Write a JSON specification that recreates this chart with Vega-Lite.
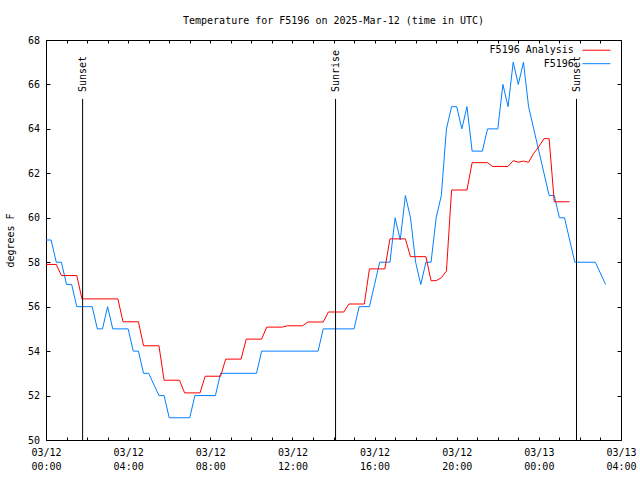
{
  "$schema": "https://vega.github.io/schema/vega-lite/v6.json",
  "autosize": "none",
  "width": 575,
  "height": 400,
  "padding": {"left": 46, "top": 40, "right": 19, "bottom": 40},
  "background": "white",
  "title": {"text": "Temperature for F5196 on 2025-Mar-12 (time in UTC)", "font": "DejaVu Sans Mono", "fontSize": 10, "fontWeight": "normal", "color": "black", "anchor": "middle", "frame": "group", "baseline": "alphabetic", "offset": 1.5},
  "config": {
    "font": "DejaVu Sans Mono",
    "view": {"stroke": "black", "strokeWidth": 1},
    "axis": {"grid": false, "domain": false, "labelFont": "DejaVu Sans Mono", "labelFontSize": 10, "labelColor": "black", "tickColor": "black", "tickWidth": 1, "titleFont": "DejaVu Sans Mono", "titleFontSize": 10, "titleFontWeight": "normal", "titleColor": "black"}
  },
  "datasets": {
    "temps": [
      {"t": "2025-03-12T00:00:00Z", "v": 59, "s": "F5196"},
      {"t": "2025-03-12T00:15:00Z", "v": 59, "s": "F5196"},
      {"t": "2025-03-12T00:30:00Z", "v": 58, "s": "F5196"},
      {"t": "2025-03-12T00:45:00Z", "v": 58, "s": "F5196"},
      {"t": "2025-03-12T01:00:00Z", "v": 57, "s": "F5196"},
      {"t": "2025-03-12T01:15:00Z", "v": 57, "s": "F5196"},
      {"t": "2025-03-12T01:30:00Z", "v": 56, "s": "F5196"},
      {"t": "2025-03-12T02:15:00Z", "v": 56, "s": "F5196"},
      {"t": "2025-03-12T02:30:00Z", "v": 55, "s": "F5196"},
      {"t": "2025-03-12T02:45:00Z", "v": 55, "s": "F5196"},
      {"t": "2025-03-12T03:00:00Z", "v": 56, "s": "F5196"},
      {"t": "2025-03-12T03:15:00Z", "v": 55, "s": "F5196"},
      {"t": "2025-03-12T04:00:00Z", "v": 55, "s": "F5196"},
      {"t": "2025-03-12T04:15:00Z", "v": 54, "s": "F5196"},
      {"t": "2025-03-12T04:30:00Z", "v": 54, "s": "F5196"},
      {"t": "2025-03-12T04:45:00Z", "v": 53, "s": "F5196"},
      {"t": "2025-03-12T05:00:00Z", "v": 53, "s": "F5196"},
      {"t": "2025-03-12T05:30:00Z", "v": 52, "s": "F5196"},
      {"t": "2025-03-12T05:45:00Z", "v": 52, "s": "F5196"},
      {"t": "2025-03-12T06:00:00Z", "v": 51, "s": "F5196"},
      {"t": "2025-03-12T07:00:00Z", "v": 51, "s": "F5196"},
      {"t": "2025-03-12T07:15:00Z", "v": 52, "s": "F5196"},
      {"t": "2025-03-12T08:15:00Z", "v": 52, "s": "F5196"},
      {"t": "2025-03-12T08:30:00Z", "v": 53, "s": "F5196"},
      {"t": "2025-03-12T10:15:00Z", "v": 53, "s": "F5196"},
      {"t": "2025-03-12T10:30:00Z", "v": 54, "s": "F5196"},
      {"t": "2025-03-12T13:15:00Z", "v": 54, "s": "F5196"},
      {"t": "2025-03-12T13:30:00Z", "v": 55, "s": "F5196"},
      {"t": "2025-03-12T15:00:00Z", "v": 55, "s": "F5196"},
      {"t": "2025-03-12T15:15:00Z", "v": 56, "s": "F5196"},
      {"t": "2025-03-12T15:45:00Z", "v": 56, "s": "F5196"},
      {"t": "2025-03-12T16:00:00Z", "v": 57, "s": "F5196"},
      {"t": "2025-03-12T16:15:00Z", "v": 58, "s": "F5196"},
      {"t": "2025-03-12T16:45:00Z", "v": 58, "s": "F5196"},
      {"t": "2025-03-12T17:00:00Z", "v": 60, "s": "F5196"},
      {"t": "2025-03-12T17:15:00Z", "v": 59, "s": "F5196"},
      {"t": "2025-03-12T17:30:00Z", "v": 61, "s": "F5196"},
      {"t": "2025-03-12T17:45:00Z", "v": 60, "s": "F5196"},
      {"t": "2025-03-12T18:00:00Z", "v": 58, "s": "F5196"},
      {"t": "2025-03-12T18:15:00Z", "v": 57, "s": "F5196"},
      {"t": "2025-03-12T18:30:00Z", "v": 58, "s": "F5196"},
      {"t": "2025-03-12T18:45:00Z", "v": 58, "s": "F5196"},
      {"t": "2025-03-12T19:00:00Z", "v": 60, "s": "F5196"},
      {"t": "2025-03-12T19:15:00Z", "v": 61, "s": "F5196"},
      {"t": "2025-03-12T19:30:00Z", "v": 64, "s": "F5196"},
      {"t": "2025-03-12T19:45:00Z", "v": 65, "s": "F5196"},
      {"t": "2025-03-12T20:00:00Z", "v": 65, "s": "F5196"},
      {"t": "2025-03-12T20:15:00Z", "v": 64, "s": "F5196"},
      {"t": "2025-03-12T20:30:00Z", "v": 65, "s": "F5196"},
      {"t": "2025-03-12T20:45:00Z", "v": 63, "s": "F5196"},
      {"t": "2025-03-12T21:15:00Z", "v": 63, "s": "F5196"},
      {"t": "2025-03-12T21:30:00Z", "v": 64, "s": "F5196"},
      {"t": "2025-03-12T22:00:00Z", "v": 64, "s": "F5196"},
      {"t": "2025-03-12T22:15:00Z", "v": 66, "s": "F5196"},
      {"t": "2025-03-12T22:30:00Z", "v": 65, "s": "F5196"},
      {"t": "2025-03-12T22:45:00Z", "v": 67, "s": "F5196"},
      {"t": "2025-03-12T23:00:00Z", "v": 66, "s": "F5196"},
      {"t": "2025-03-12T23:15:00Z", "v": 67, "s": "F5196"},
      {"t": "2025-03-12T23:30:00Z", "v": 65, "s": "F5196"},
      {"t": "2025-03-12T23:45:00Z", "v": 64, "s": "F5196"},
      {"t": "2025-03-13T00:00:00Z", "v": 63, "s": "F5196"},
      {"t": "2025-03-13T00:15:00Z", "v": 62, "s": "F5196"},
      {"t": "2025-03-13T00:30:00Z", "v": 61, "s": "F5196"},
      {"t": "2025-03-13T00:45:00Z", "v": 61, "s": "F5196"},
      {"t": "2025-03-13T01:00:00Z", "v": 60, "s": "F5196"},
      {"t": "2025-03-13T01:15:00Z", "v": 60, "s": "F5196"},
      {"t": "2025-03-13T01:30:00Z", "v": 59, "s": "F5196"},
      {"t": "2025-03-13T01:45:00Z", "v": 58, "s": "F5196"},
      {"t": "2025-03-13T02:45:00Z", "v": 58, "s": "F5196"},
      {"t": "2025-03-13T03:15:00Z", "v": 57, "s": "F5196"},
      {"t": "2025-03-12T00:00:00Z", "v": 57.9, "s": "F5196 Analysis"},
      {"t": "2025-03-12T00:30:00Z", "v": 57.9, "s": "F5196 Analysis"},
      {"t": "2025-03-12T00:45:00Z", "v": 57.4, "s": "F5196 Analysis"},
      {"t": "2025-03-12T01:30:00Z", "v": 57.4, "s": "F5196 Analysis"},
      {"t": "2025-03-12T01:45:00Z", "v": 56.35, "s": "F5196 Analysis"},
      {"t": "2025-03-12T03:30:00Z", "v": 56.35, "s": "F5196 Analysis"},
      {"t": "2025-03-12T03:45:00Z", "v": 55.32, "s": "F5196 Analysis"},
      {"t": "2025-03-12T04:30:00Z", "v": 55.32, "s": "F5196 Analysis"},
      {"t": "2025-03-12T04:45:00Z", "v": 54.24, "s": "F5196 Analysis"},
      {"t": "2025-03-12T05:30:00Z", "v": 54.24, "s": "F5196 Analysis"},
      {"t": "2025-03-12T05:45:00Z", "v": 52.69, "s": "F5196 Analysis"},
      {"t": "2025-03-12T06:30:00Z", "v": 52.69, "s": "F5196 Analysis"},
      {"t": "2025-03-12T06:45:00Z", "v": 52.12, "s": "F5196 Analysis"},
      {"t": "2025-03-12T07:30:00Z", "v": 52.12, "s": "F5196 Analysis"},
      {"t": "2025-03-12T07:45:00Z", "v": 52.87, "s": "F5196 Analysis"},
      {"t": "2025-03-12T08:30:00Z", "v": 52.87, "s": "F5196 Analysis"},
      {"t": "2025-03-12T08:45:00Z", "v": 53.64, "s": "F5196 Analysis"},
      {"t": "2025-03-12T09:30:00Z", "v": 53.64, "s": "F5196 Analysis"},
      {"t": "2025-03-12T09:45:00Z", "v": 54.54, "s": "F5196 Analysis"},
      {"t": "2025-03-12T10:30:00Z", "v": 54.54, "s": "F5196 Analysis"},
      {"t": "2025-03-12T10:45:00Z", "v": 55.08, "s": "F5196 Analysis"},
      {"t": "2025-03-12T11:30:00Z", "v": 55.08, "s": "F5196 Analysis"},
      {"t": "2025-03-12T11:45:00Z", "v": 55.14, "s": "F5196 Analysis"},
      {"t": "2025-03-12T12:30:00Z", "v": 55.14, "s": "F5196 Analysis"},
      {"t": "2025-03-12T12:45:00Z", "v": 55.31, "s": "F5196 Analysis"},
      {"t": "2025-03-12T13:30:00Z", "v": 55.31, "s": "F5196 Analysis"},
      {"t": "2025-03-12T13:45:00Z", "v": 55.76, "s": "F5196 Analysis"},
      {"t": "2025-03-12T14:30:00Z", "v": 55.76, "s": "F5196 Analysis"},
      {"t": "2025-03-12T14:45:00Z", "v": 56.12, "s": "F5196 Analysis"},
      {"t": "2025-03-12T15:30:00Z", "v": 56.12, "s": "F5196 Analysis"},
      {"t": "2025-03-12T15:45:00Z", "v": 57.7, "s": "F5196 Analysis"},
      {"t": "2025-03-12T16:30:00Z", "v": 57.7, "s": "F5196 Analysis"},
      {"t": "2025-03-12T16:45:00Z", "v": 59.05, "s": "F5196 Analysis"},
      {"t": "2025-03-12T17:30:00Z", "v": 59.05, "s": "F5196 Analysis"},
      {"t": "2025-03-12T17:45:00Z", "v": 58.25, "s": "F5196 Analysis"},
      {"t": "2025-03-12T18:30:00Z", "v": 58.25, "s": "F5196 Analysis"},
      {"t": "2025-03-12T18:45:00Z", "v": 57.17, "s": "F5196 Analysis"},
      {"t": "2025-03-12T19:00:00Z", "v": 57.17, "s": "F5196 Analysis"},
      {"t": "2025-03-12T19:15:00Z", "v": 57.3, "s": "F5196 Analysis"},
      {"t": "2025-03-12T19:30:00Z", "v": 57.6, "s": "F5196 Analysis"},
      {"t": "2025-03-12T19:45:00Z", "v": 61.25, "s": "F5196 Analysis"},
      {"t": "2025-03-12T20:30:00Z", "v": 61.25, "s": "F5196 Analysis"},
      {"t": "2025-03-12T20:45:00Z", "v": 62.48, "s": "F5196 Analysis"},
      {"t": "2025-03-12T21:30:00Z", "v": 62.48, "s": "F5196 Analysis"},
      {"t": "2025-03-12T21:45:00Z", "v": 62.31, "s": "F5196 Analysis"},
      {"t": "2025-03-12T22:30:00Z", "v": 62.31, "s": "F5196 Analysis"},
      {"t": "2025-03-12T22:45:00Z", "v": 62.57, "s": "F5196 Analysis"},
      {"t": "2025-03-12T23:00:00Z", "v": 62.5, "s": "F5196 Analysis"},
      {"t": "2025-03-12T23:15:00Z", "v": 62.55, "s": "F5196 Analysis"},
      {"t": "2025-03-12T23:30:00Z", "v": 62.5, "s": "F5196 Analysis"},
      {"t": "2025-03-12T23:45:00Z", "v": 62.9, "s": "F5196 Analysis"},
      {"t": "2025-03-13T00:00:00Z", "v": 63.2, "s": "F5196 Analysis"},
      {"t": "2025-03-13T00:15:00Z", "v": 63.56, "s": "F5196 Analysis"},
      {"t": "2025-03-13T00:30:00Z", "v": 63.56, "s": "F5196 Analysis"},
      {"t": "2025-03-13T00:45:00Z", "v": 60.72, "s": "F5196 Analysis"},
      {"t": "2025-03-13T01:30:00Z", "v": 60.72, "s": "F5196 Analysis"}
    ],
    "sun": [
      {"t": "2025-03-12T01:47:00Z", "label": "Sunset"},
      {"t": "2025-03-12T14:06:00Z", "label": "Sunrise"},
      {"t": "2025-03-13T01:50:00Z", "label": "Sunset"}
    ]
  },
  "layer": [
    {
      "data": {"name": "temps"},
      "mark": {"type": "line", "strokeWidth": 1},
      "encoding": {
        "x": {"field": "t", "type": "temporal",
          "scale": {"type": "utc", "domain": [1741737600000, 1741838400000]},
          "axis": {"orient": "bottom", "title": null, "values": [1741737600000, 1741741200000, 1741744800000, 1741748400000, 1741752000000, 1741755600000, 1741759200000, 1741762800000, 1741766400000, 1741770000000, 1741773600000, 1741777200000, 1741780800000, 1741784400000, 1741788000000, 1741791600000, 1741795200000, 1741798800000, 1741802400000, 1741806000000, 1741809600000, 1741813200000, 1741816800000, 1741820400000, 1741824000000, 1741827600000, 1741831200000, 1741834800000, 1741838400000], "labelExpr": "utchours(datum.value) % 4 == 0 ? [utcFormat(datum.value, '%m/%d'), utcFormat(datum.value, '%H:%M')] : ''", "labelOverlap": false, "labelFlush": false, "tickSize": -3, "labelPadding": 10, "labelBaseline": "top", "labelLineHeight": 14}},
        "y": {"field": "v", "type": "quantitative",
          "scale": {"domain": [50, 68], "nice": false, "zero": false},
          "axis": {"orient": "left", "values": [50, 52, 54, 56, 58, 60, 62, 64, 66, 68], "tickSize": -4, "labelPadding": 10.5, "title": "degrees F", "titlePadding": 12}},
        "color": {"field": "s", "type": "nominal",
          "scale": {"domain": ["F5196 Analysis", "F5196"], "range": ["#ff0000", "#0080ff"]},
          "legend": {"title": null, "orient": "none", "legendX": 535.5, "legendY": 3.7, "symbolType": "M-2.5,0H2.5", "symbolSize": 125, "symbolOffset": 8.4, "symbolStrokeWidth": 1, "labelAlign": "right", "labelOffset": -29, "labelFont": "DejaVu Sans Mono", "labelFontSize": 10, "labelColor": "black", "rowPadding": 1.5, "padding": 0}}
      }
    },
    {
      "data": {"name": "sun"},
      "mark": {"type": "rule", "color": "black", "strokeWidth": 1},
      "encoding": {
        "x": {"field": "t", "type": "temporal",
          "scale": {"type": "utc", "domain": [1741737600000, 1741838400000]},
          "axis": {"orient": "top", "title": null, "labels": false, "values": [1741737600000, 1741741200000, 1741744800000, 1741748400000, 1741752000000, 1741755600000, 1741759200000, 1741762800000, 1741766400000, 1741770000000, 1741773600000, 1741777200000, 1741780800000, 1741784400000, 1741788000000, 1741791600000, 1741795200000, 1741798800000, 1741802400000, 1741806000000, 1741809600000, 1741813200000, 1741816800000, 1741820400000, 1741824000000, 1741827600000, 1741831200000, 1741834800000, 1741838400000], "tickSize": -3}},
        "y": {"datum": 65.35, "type": "quantitative",
          "scale": {"domain": [50, 68], "nice": false, "zero": false},
          "axis": {"orient": "right", "labels": false, "title": null, "values": [50, 52, 54, 56, 58, 60, 62, 64, 66, 68], "tickSize": -4}},
        "y2": {"datum": 50}
      }
    },
    {
      "data": {"name": "sun"},
      "mark": {"type": "text", "angle": 270, "align": "left", "baseline": "middle", "font": "DejaVu Sans Mono", "fontSize": 10, "color": "black"},
      "encoding": {
        "x": {"field": "t", "type": "temporal", "axis": null,
          "scale": {"type": "utc", "domain": [1741737600000, 1741838400000]}},
        "y": {"datum": 65.66, "type": "quantitative", "axis": null,
          "scale": {"domain": [50, 68], "nice": false, "zero": false}},
        "text": {"field": "label"}
      }
    }
  ],
  "resolve": {"axis": {"x": "independent", "y": "independent"}}
}
